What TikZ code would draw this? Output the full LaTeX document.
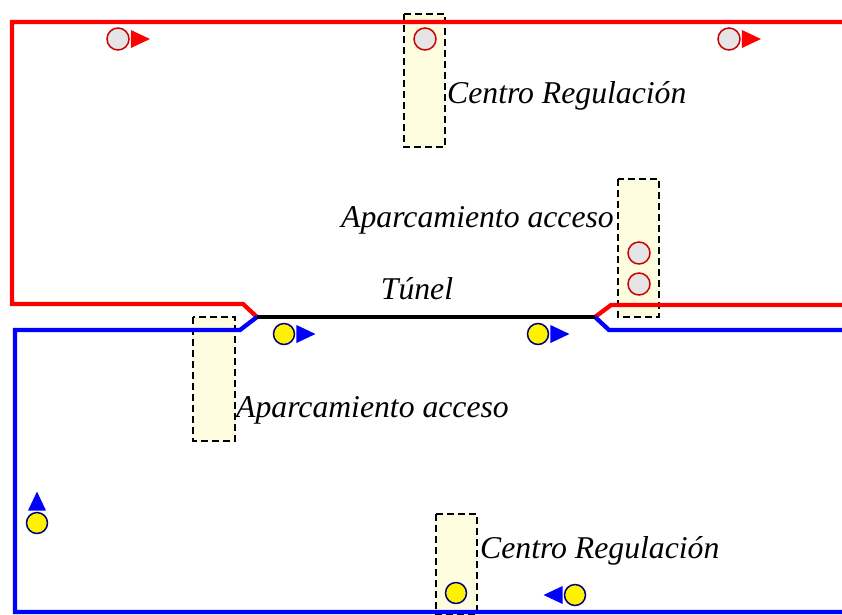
\documentclass[tikz,border=0pt]{standalone}
\usepackage{fontspec}
\setmainfont{Liberation Serif}
\usetikzlibrary{positioning}
\usetikzlibrary{shapes.geometric}

\tikzset{
  via/.style={line width=4.3pt},
  zona/.style={draw=black, fill=yellow!12, line width=1.5pt, dash pattern=on 7pt off 4pt},
  tren/.style={circle, draw=red!80!black, fill=gray!20, line width=1.5pt, minimum size=22pt, inner sep=0pt},
  coche/.style={circle, draw=blue!50!black, fill=yellow, line width=1.5pt, minimum size=21pt, inner sep=0pt},
  flecha/.style={isosceles triangle, isosceles triangle stretches, minimum height=19pt, minimum width=18pt, inner sep=0pt},
  rotulo/.style={font=\itshape\fontsize{31.7}{32}\selectfont, inner sep=0pt}
}

\begin{document}
\begin{tikzpicture}[x=1pt,y=-1pt]
\useasboundingbox (0,0) rectangle (842,614);
% zonas
\draw[zona] (404,14) rectangle (445,147);
\draw[zona] (618,179) rectangle (659,317);
\draw[zona] (193,317) rectangle (235,441);
\draw[zona] (436,514) rectangle (477,614);
% vias
\draw[via, red] (842,22) -- (12,22) -- (12,304) -- (243,304) -- (257,317);
\draw[via, red] (595,317) -- (611,305) -- (842,305);
\draw[via, blue] (257,317) -- (240,330) -- (15,330) -- (15,612) -- (842,612);
\draw[via, blue] (595,317) -- (609,330) -- (842,330);
\draw[via] (257,317) -- (595,317);
% trenes
\node[tren] (t1) at (118,39) {};
\node[flecha, fill=red, right=1pt of t1] (f1) {};
\node[tren] (t2) at (729,39) {};
\node[flecha, fill=red, right=1pt of t2] (f2) {};
\node[tren] (t3) at (425,39) {};
\node[tren] (t4) at (639,253) {};
\node[tren] (t5) at (639,284) {};
% coches
\node[coche] (c1) at (284,334) {};
\node[flecha, fill=blue, right=1pt of c1] (g1) {};
\node[coche] (c2) at (538,334) {};
\node[flecha, fill=blue, right=1pt of c2] (g2) {};
\node[coche] (c3) at (37,523) {};
\node[flecha, fill=blue, shape border rotate=90, above=1pt of c3] (g3) {};
\node[coche] (c4) at (575,595) {};
\node[flecha, fill=blue, shape border rotate=180, left=1pt of c4] (g4) {};
\node[coche] (c5) at (456,593) {};
% rotulos
\node[rotulo, anchor=base west] (l1) at (447,103) {Centro Regulación};
\node[rotulo, anchor=base east] (l2) at (614,227) {Aparcamiento acceso};
\node[rotulo, anchor=base] (l3) at (417,299) {Túnel};
\node[rotulo, anchor=base west] (l4) at (236,417) {Aparcamiento acceso};
\node[rotulo, anchor=base west] (l5) at (480,558) {Centro Regulación};
\end{tikzpicture}
\end{document}
